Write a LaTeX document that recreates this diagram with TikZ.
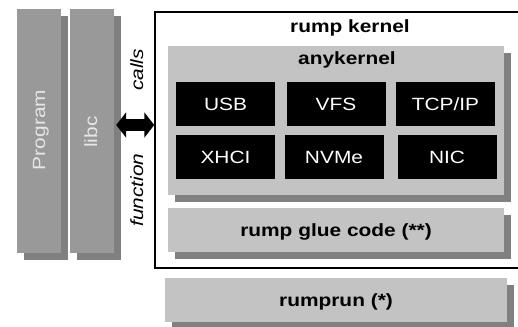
\documentclass[tikz,border=0pt]{standalone}
\usepackage{fontspec}
\setmainfont{Liberation Sans}[FakeStretch=1.18]
\usetikzlibrary{arrows.meta,shadows}
\definecolor{bargray}{HTML}{999999}
\definecolor{bartext}{HTML}{E6E6E6}
\definecolor{lightbox}{HTML}{C3C3C3}
\definecolor{shadowgray}{HTML}{808080}
\begin{document}
\begin{tikzpicture}[x=1pt,y=-1pt,
  shad/.style={drop shadow={shadow xshift=7pt,shadow yshift=-7pt,fill=shadowgray,opacity=1}},
  fnt/.style={font=\fontsize{17.7}{20}\selectfont},
  capbox/.style={fnt,text height=12.7pt,text depth=0pt,inner sep=0pt},
  bar/.style={shad,fill=bargray,minimum width=44pt,minimum height=244pt,inner sep=0pt},
  bartxt/.style={fnt,text=bartext,rotate=90,anchor=base,inner sep=0pt},
  sidetxt/.style={fnt,font=\fontsize{17.7}{20}\selectfont\itshape,rotate=90,anchor=base,inner sep=0pt},
  graybox/.style={shad,capbox,fill=lightbox,font=\fontsize{17.7}{20}\selectfont\bfseries,minimum height=44pt},
  blk/.style={capbox,fill=black,text=white,minimum width=99pt,minimum height=44pt},
  title/.style={fnt,font=\fontsize{17.7}{20}\selectfont\bfseries,anchor=base,inner sep=0pt}
]
\clip (0,0) rectangle (518,326);
\fill[white] (0,0) rectangle (518,326);
% left bars
\node[bar] (prog) at (39,131) {};
\node[bar] (libc) at (92,131) {};
\node[bartxt] (progtxt) at (45,130) {Program};
\node[bartxt] (libctxt) at (97,132) {libc};
% rump kernel frame
\node[draw=black,line width=1.5pt,fill=white,minimum width=370pt,minimum height=256pt,inner sep=0pt] (rk) at (340,140) {};
\node[title] (rktxt) at (350,32.5) {rump kernel};
% anykernel
\node[shad,fill=lightbox,minimum width=336pt,minimum height=149pt,inner sep=0pt] (any) at (336,120.5) {};
\node[title] (anytxt) at (347,65) {anykernel};
\node[blk] (usb) at (225.5,104) {USB};
\node[blk] (vfs) at (336,104) {VFS};
\node[blk] (tcp) at (445.5,104) {TCP/IP};
\node[blk] (xhci) at (225.5,157) {XHCI};
\node[blk] (nvme) at (334,157) {NVMe};
\node[blk] (nic) at (447,157) {NIC};
% glue & rumprun
\node[graybox,minimum width=336pt] (glue) at (336,230) {rump glue code (**)};
\node[graybox,minimum width=342pt] (rumprun) at (336,300) {rumprun (*)};
% side texts
\node[sidetxt] (calls) at (143,70) {calls};
\node[sidetxt] (func) at (143,190) {function};
% arrow
\coordinate (ay) at (0,125);
\draw[line width=12pt,{Triangle[length=10pt,width=25pt]}-{Triangle[length=10pt,width=25pt]}]
  ([xshift=2pt]libc.east |- ay) -- (rk.west |- ay);
\end{tikzpicture}
\end{document}
